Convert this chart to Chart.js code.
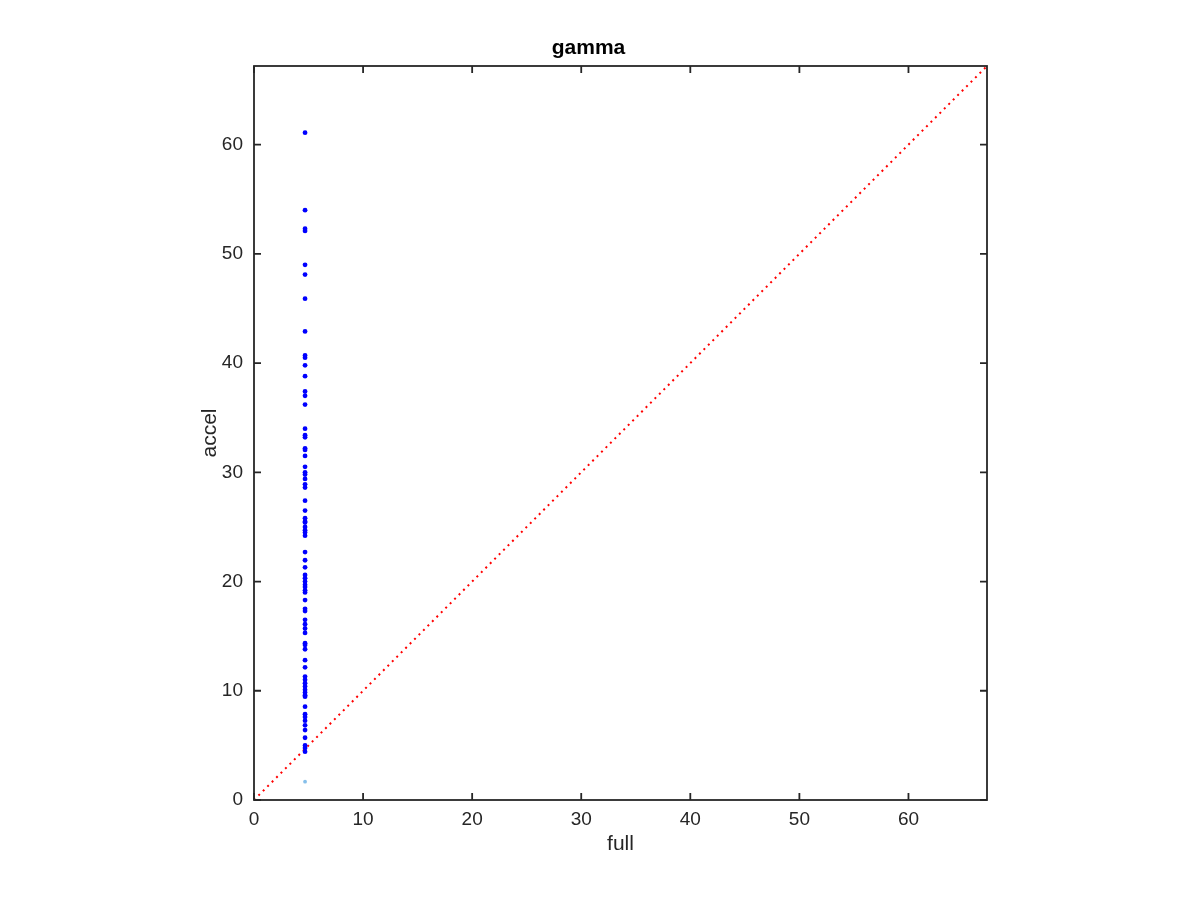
<!DOCTYPE html>
<html>
<head>
<meta charset="utf-8">
<title>gamma</title>
<script src="https://cdn.jsdelivr.net/npm/chart.js@4/dist/chart.umd.min.js"></script>
<style>
  html, body { margin: 0; padding: 0; background: #fff; }
  #wrap { width: 1200px; height: 900px; }
</style>
</head>
<body>
<div id="wrap"><canvas id="chart" width="1200" height="900"></canvas></div>
<script>
'use strict';

// values
let fullValue = 4.68;
let accelValues = [
  61.1, 54.0, 52.3, 52.1, 49.0, 48.1, 45.9, 42.9, 40.7, 40.5,
  39.8, 38.8, 37.4, 37.0, 36.2, 34.0, 33.4, 33.2, 32.2, 32.05,
  31.5, 30.5, 30.0, 29.8, 29.4, 28.9, 28.6, 27.4, 26.5, 25.8,
  25.5, 25.4, 25.0, 24.7, 24.5, 24.2, 22.7, 21.95, 21.3, 20.6,
  20.3, 20.0, 19.7, 19.5, 19.2, 19.0, 18.3, 17.5, 17.3, 16.5,
  16.1, 15.7, 15.3, 14.35, 14.2, 13.8, 12.8, 12.15, 11.3, 11.0,
  10.7, 10.4, 10.1, 9.85, 9.6, 9.46, 8.54, 7.85, 7.6, 7.26,
  6.84, 6.4, 5.7, 5.0, 4.76, 4.42
];
let lowFull = [4.68];
let lowAccel = [1.68];
let axisMax = 67.2;
let diagonal = [0, axisMax];
let tickValues = [0, 10, 20, 30, 40, 50, 60];

let ctx = document.getElementById('chart').getContext('2d');
let axisColor = '#262626';
let fontFamily = '"Liberation Sans", Arial, Helvetica, sans-serif';

let bluePoints = accelValues.map(v => ({ x: fullValue, y: v }));
let paleBluePoints = lowAccel.map((v, i) => ({ x: lowFull[i], y: v }));
let diagPoints = diagonal.map(v => ({ x: v, y: v }));

// box around the plot and inward tick marks, like the original
let boxPlugin = {
  id: 'boxPlugin',
  afterDraw(chart) {
    let c = chart.ctx;
    let a = chart.chartArea;
    let xs = chart.scales.x;
    let ys = chart.scales.y;
    let len = 7;
    c.save();
    c.strokeStyle = axisColor;
    c.lineWidth = 1.8;
    c.strokeRect(a.left, a.top, a.right - a.left, a.bottom - a.top);
    c.beginPath();
    for (let v of tickValues) {
      let px = xs.getPixelForValue(v);
      c.moveTo(px, a.bottom);
      c.lineTo(px, a.bottom - len);
      c.moveTo(px, a.top);
      c.lineTo(px, a.top + len);
      let py = ys.getPixelForValue(v);
      c.moveTo(a.left, py);
      c.lineTo(a.left + len, py);
      c.moveTo(a.right, py);
      c.lineTo(a.right - len, py);
    }
    c.stroke();
    c.restore();
  }
};

function setTicks(scale) {
  scale.ticks = tickValues.map(v => ({ value: v }));
}

let chart = new Chart(ctx, {
  type: 'scatter',
  data: {
    datasets: [
      {
        label: 'accel',
        data: bluePoints,
        backgroundColor: '#0000ff',
        borderWidth: 0,
        pointRadius: 2.4
      },
      {
        label: 'low',
        data: paleBluePoints,
        backgroundColor: '#86bfea',
        borderWidth: 0,
        pointRadius: 1.9
      },
      {
        label: 'diag',
        data: diagPoints,
        showLine: true,
        borderColor: '#ff0000',
        borderWidth: 2,
        borderDash: [2, 4.3],
        pointRadius: 0,
        fill: false
      }
    ]
  },
  options: {
    responsive: false,
    animation: false,
    layout: {
      padding: { left: 190, right: 213, top: 0, bottom: 40 }
    },
    plugins: {
      legend: { display: false },
      tooltip: { enabled: false },
      title: {
        display: true,
        text: 'gamma',
        color: '#000',
        font: { family: fontFamily, size: 21, weight: 'bold' },
        padding: { top: 36, bottom: 4.8 }
      }
    },
    scales: {
      x: {
        type: 'linear',
        min: 0,
        max: axisMax,
        afterBuildTicks: setTicks,
        afterFit(scale) { scale.height = 60; },
        grid: { display: false, drawTicks: false },
        border: { display: false },
        ticks: {
          color: axisColor,
          padding: 8,
          maxRotation: 0,
          font: { family: fontFamily, size: 19 }
        },
        title: {
          display: true,
          text: 'full',
          color: axisColor,
          font: { family: fontFamily, size: 21 },
          padding: { top: 0, bottom: 3.4 }
        }
      },
      y: {
        type: 'linear',
        min: 0,
        max: axisMax,
        afterBuildTicks: setTicks,
        afterFit(scale) { scale.width = 64; },
        grid: { display: false, drawTicks: false },
        border: { display: false },
        ticks: {
          color: axisColor,
          padding: 11,
          font: { family: fontFamily, size: 19 }
        },
        title: {
          display: true,
          text: 'accel',
          color: axisColor,
          font: { family: fontFamily, size: 21 },
          padding: { top: 7.4, bottom: 0 }
        }
      }
    }
  },
  plugins: [boxPlugin]
});
</script>
</body>
</html>
